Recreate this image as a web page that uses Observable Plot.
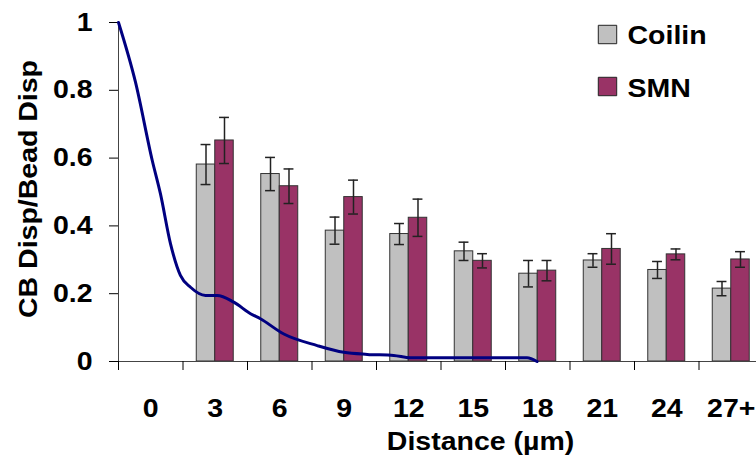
<!DOCTYPE html>
<html>
<head>
<meta charset="utf-8">
<script src="https://cdn.jsdelivr.net/npm/d3@7"></script>
<script src="https://cdn.jsdelivr.net/npm/@observablehq/plot@0.6"></script>
<style>
  html, body { margin: 0; padding: 0; background: #fff; overflow: hidden; }
</style>
</head>
<body>
<div id="chart"></div>
<script>
// ---- data ----
const categories = ["0", "3", "6", "9", "12", "15", "18", "21", "24", "27+"];
const seriesNames = ["Coilin", "SMN"];
const coilin    = [null, 0.581, 0.553, 0.386, 0.376, 0.325, 0.259, 0.298, 0.270, 0.215];
const coilinErr = [null, 0.059, 0.049, 0.040, 0.031, 0.027, 0.039, 0.020, 0.025, 0.021];
const smn       = [null, 0.652, 0.517, 0.485, 0.424, 0.297, 0.268, 0.332, 0.316, 0.301];
const smnErr    = [null, 0.068, 0.051, 0.050, 0.055, 0.021, 0.030, 0.045, 0.016, 0.023];
// blue decay curve (distance in µm, ratio)
const lineDist = [0, 0.79, 1.57, 1.95, 2.42, 2.88, 3.35, 4.05, 4.59, 5.36, 6.14, 6.6, 7.69, 9.24, 10.48, 11.57, 12.8, 13.58, 19.0, 19.47];
const lineVal  = [1.0, 0.824, 0.593, 0.495, 0.347, 0.254, 0.219, 0.195, 0.195, 0.175, 0.141, 0.126, 0.081, 0.047, 0.027, 0.021, 0.018, 0.011, 0.011, 0.0];
const yTicks  = [0, 0.2, 0.4, 0.6, 0.8, 1];
const yLabels = ["0", "0.2", "0.4", "0.6", "0.8", "1"];
const xTitle = "Distance (µm)";
const yTitle = "CB Disp/Bead Disp";

// ---- derived tables ----
const step = 3;                       // category width in distance units
const half = 0.86;                    // bar width in distance units
const colors = ["#c0c0c0", "#993366"];
const bars = [];
categories.forEach((c, i) => {
  const mid = step * i + step / 2;
  [[coilin, coilinErr, 0], [smn, smnErr, 1]].forEach(([vals, errs, s]) => {
    const v = vals[i];
    if (v == null) return;
    const x1 = s === 0 ? mid - half : mid;
    const x2 = s === 0 ? mid : mid + half;
    bars.push({series: seriesNames[s], x1, x2, xc: (x1 + x2) / 2, y: v, lo: v - errs[i], hi: v + errs[i], fill: colors[s]});
  });
});
const caps = bars.flatMap(b => [{y: b.lo, xc: b.xc}, {y: b.hi, xc: b.xc}]);
const curve = lineDist.map((d, i) => ({x: d, y: lineVal[i]}));
const boundaries = categories.map((c, i) => step * i);
const centers = categories.map((c, i) => step * i + step / 2);

const plot = Plot.plot({
  width: 756,
  height: 464,
  marginLeft: 118,
  marginRight: 0,
  marginTop: 22,
  marginBottom: 103,
  x: {domain: [0, step * categories.length], range: [118, 763]},
  y: {domain: [0, 1]},
  style: {fontFamily: "'Liberation Sans', Arial, sans-serif", fontSize: "25px", fontWeight: "bold", color: "#000", background: "#fff"},
  marks: [
    Plot.rectY(bars, {x1: "x1", x2: "x2", y1: 0, y2: "y", fill: "fill", stroke: "#333", strokeWidth: 1}),
    Plot.ruleX(bars, {x: "xc", y1: "lo", y2: "hi", stroke: "#222", strokeWidth: 1.5}),
    Plot.ruleY(caps, {y: "y", x1: d => d.xc - 0.23, x2: d => d.xc + 0.23, stroke: "#222", strokeWidth: 1.5}),
    Plot.ruleX([0], {stroke: "#444", strokeWidth: 1}),
    Plot.ruleY([0], {stroke: "#444", strokeWidth: 1}),
    Plot.axisY(yTicks, {tickSize: 9, tickPadding: 17, tickFormat: d => yLabels[yTicks.indexOf(d)], label: null}),
    Plot.axisX(boundaries, {tickSize: 9, tickFormat: () => "", label: null}),
    Plot.axisX(centers, {tickSize: 0, tickPadding: 38, tickFormat: d => categories[Math.round((d - step / 2) / step)], label: null}),
    Plot.line(curve, {x: "x", y: "y", stroke: "#000080", strokeWidth: 3, curve: "monotone-x"}),
    Plot.text([xTitle], {frameAnchor: "bottom", dx: 43, dy: 88, lineAnchor: "bottom", textAnchor: "middle"}),
    Plot.text([yTitle], {frameAnchor: "left", rotate: -90, dx: -90, dy: -3, lineAnchor: "middle", textAnchor: "middle"}),
    Plot.dot([seriesNames[0]], {frameAnchor: "top-right", dx: -149, dy: 12, symbol: "square", r: 10.4, fill: colors[0], stroke: "#222", strokeWidth: 1}),
    Plot.dot([seriesNames[1]], {frameAnchor: "top-right", dx: -149, dy: 64, symbol: "square", r: 10.4, fill: colors[1], stroke: "#222", strokeWidth: 1}),
    Plot.text([seriesNames[0]], {frameAnchor: "top-right", dx: -129, dy: 21, textAnchor: "start", lineAnchor: "bottom"}),
    Plot.text([seriesNames[1]], {frameAnchor: "top-right", dx: -129, dy: 74, textAnchor: "start", lineAnchor: "bottom"})
  ]
});

// horizontal stretch of glyphs (the original's bold text is wider than Arial).
// Only the x attribute is folded into the transform; y (possibly in em) is unaffected by a pure x-scale.
const sx = 1.14;
plot.querySelectorAll("text").forEach(t => {
  const xa = t.getAttribute("x");
  let tr = t.getAttribute("transform") || "";
  const xv = xa == null ? 0 : parseFloat(xa);
  if (xa != null && isFinite(xv) && !/em$/.test(xa)) {
    tr += ` translate(${xv},0)`;
    t.removeAttribute("x");
  }
  t.setAttribute("transform", `${tr} scale(${sx},1)`);
});
document.getElementById("chart").appendChild(plot);
</script>
</body>
</html>
